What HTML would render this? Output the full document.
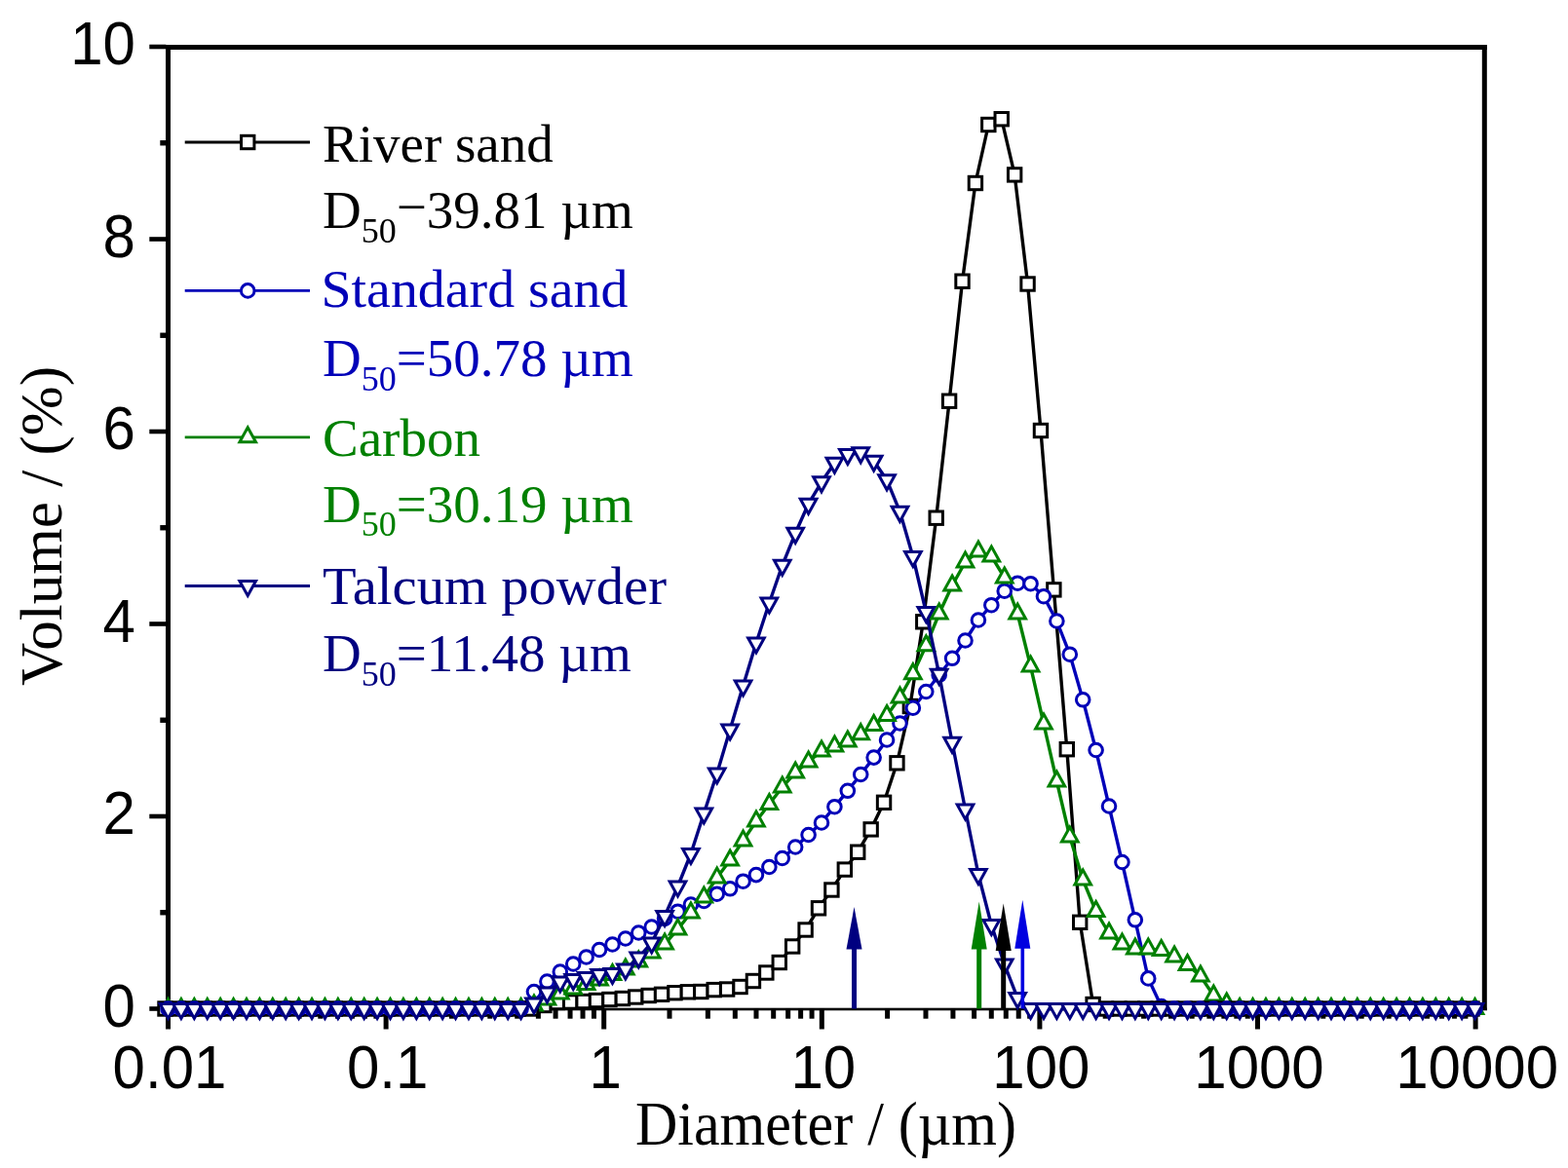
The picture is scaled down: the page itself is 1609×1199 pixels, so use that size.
<!DOCTYPE html><html><head><meta charset="utf-8"><title>Particle size distribution</title>
<style>html,body{margin:0;padding:0;background:#fff}svg{display:block}.sans{font-family:"Liberation Sans",Arial,sans-serif}.serif{font-family:"Liberation Serif","Times New Roman",serif}</style></head><body>
<svg width="1609" height="1199" viewBox="0 0 1609 1199">
<rect width="1609" height="1199" fill="#fff"/>
<g fill="#000"><rect x="170" y="46" width="1356" height="5"/><rect x="170" y="46" width="5" height="991"/><rect x="1520.8" y="46" width="5" height="991"/><rect x="170" y="1034.7" width="1356" height="2.6"/><rect x="153.3" y="1033.20" width="17" height="4.6"/><rect x="164.3" y="934.05" width="6" height="5.4"/><rect x="153.3" y="835.70" width="17" height="4.6"/><rect x="164.3" y="736.55" width="6" height="5.4"/><rect x="153.3" y="638.20" width="17" height="4.6"/><rect x="164.3" y="539.05" width="6" height="5.4"/><rect x="153.3" y="440.70" width="17" height="4.6"/><rect x="164.3" y="341.55" width="6" height="5.4"/><rect x="153.3" y="243.20" width="17" height="4.6"/><rect x="164.3" y="144.05" width="6" height="5.4"/><rect x="153.3" y="45.70" width="17" height="4.6"/><rect x="170.00" y="1036" width="5" height="20.5"/><rect x="237.31" y="1036" width="5" height="9.7"/><rect x="276.68" y="1036" width="5" height="9.7"/><rect x="304.62" y="1036" width="5" height="9.7"/><rect x="326.29" y="1036" width="5" height="9.7"/><rect x="343.99" y="1036" width="5" height="9.7"/><rect x="358.96" y="1036" width="5" height="9.7"/><rect x="371.93" y="1036" width="5" height="9.7"/><rect x="383.37" y="1036" width="5" height="9.7"/><rect x="393.60" y="1036" width="5" height="20.5"/><rect x="460.91" y="1036" width="5" height="9.7"/><rect x="500.28" y="1036" width="5" height="9.7"/><rect x="528.22" y="1036" width="5" height="9.7"/><rect x="549.89" y="1036" width="5" height="9.7"/><rect x="567.59" y="1036" width="5" height="9.7"/><rect x="582.56" y="1036" width="5" height="9.7"/><rect x="595.53" y="1036" width="5" height="9.7"/><rect x="606.97" y="1036" width="5" height="9.7"/><rect x="617.20" y="1036" width="5" height="20.5"/><rect x="684.51" y="1036" width="5" height="9.7"/><rect x="723.88" y="1036" width="5" height="9.7"/><rect x="751.82" y="1036" width="5" height="9.7"/><rect x="773.49" y="1036" width="5" height="9.7"/><rect x="791.19" y="1036" width="5" height="9.7"/><rect x="806.16" y="1036" width="5" height="9.7"/><rect x="819.13" y="1036" width="5" height="9.7"/><rect x="830.57" y="1036" width="5" height="9.7"/><rect x="840.80" y="1036" width="5" height="20.5"/><rect x="908.11" y="1036" width="5" height="9.7"/><rect x="947.48" y="1036" width="5" height="9.7"/><rect x="975.42" y="1036" width="5" height="9.7"/><rect x="997.09" y="1036" width="5" height="9.7"/><rect x="1014.79" y="1036" width="5" height="9.7"/><rect x="1029.76" y="1036" width="5" height="9.7"/><rect x="1042.73" y="1036" width="5" height="9.7"/><rect x="1054.17" y="1036" width="5" height="9.7"/><rect x="1064.40" y="1036" width="5" height="20.5"/><rect x="1131.71" y="1036" width="5" height="9.7"/><rect x="1171.08" y="1036" width="5" height="9.7"/><rect x="1199.02" y="1036" width="5" height="9.7"/><rect x="1220.69" y="1036" width="5" height="9.7"/><rect x="1238.39" y="1036" width="5" height="9.7"/><rect x="1253.36" y="1036" width="5" height="9.7"/><rect x="1266.33" y="1036" width="5" height="9.7"/><rect x="1277.77" y="1036" width="5" height="9.7"/><rect x="1288.00" y="1036" width="5" height="20.5"/><rect x="1355.31" y="1036" width="5" height="9.7"/><rect x="1394.68" y="1036" width="5" height="9.7"/><rect x="1422.62" y="1036" width="5" height="9.7"/><rect x="1444.29" y="1036" width="5" height="9.7"/><rect x="1461.99" y="1036" width="5" height="9.7"/><rect x="1476.96" y="1036" width="5" height="9.7"/><rect x="1489.93" y="1036" width="5" height="9.7"/><rect x="1501.37" y="1036" width="5" height="9.7"/><rect x="1511.60" y="1036" width="5" height="20.5"/></g>
<polyline points="169.5,1035.5 182.91,1035.5 196.32,1035.5 209.73,1035.5 223.14,1035.5 236.55,1035.5 249.96,1035.5 263.37,1035.5 276.78,1035.5 290.19,1035.5 303.6,1035.5 317.01,1035.5 330.42,1035.5 343.83,1035.5 357.24,1035.5 370.65,1035.5 384.06,1035.5 397.47,1035.5 410.88,1035.5 424.29,1035.5 437.7,1035.5 451.11,1035.5 464.52,1035.5 477.93,1035.5 491.34,1035.5 504.75,1035.5 518.16,1035.5 531.57,1035.5 544.98,1035.5 558.39,1032 571.8,1029 585.21,1028.5 598.62,1028 612.03,1027 625.44,1026 638.85,1025 652.26,1023.5 665.67,1022 679.08,1020.8 692.49,1019.2 705.9,1018.3 719.31,1018 732.72,1016.1 746.13,1015.5 759.54,1013 772.95,1007 786.36,998.5 799.77,988 813.18,971.5 826.59,954.5 840.0,932.3 853.41,913.5 866.82,892.6 880.23,874.7 893.64,851.4 907.05,823.8 920.46,783.3 933.87,725 947.28,638.3 960.69,531.7 974.1,411.7 987.51,288.7 1000.92,188 1014.33,128 1027.74,122.2 1041.15,179.4 1054.56,291.5 1067.97,442 1081.38,605.4 1094.79,769.2 1108.2,946.8 1121.61,1031 1135.02,1035.5 1148.43,1035.5 1161.84,1035.5 1175.25,1035.5 1188.66,1035.5 1202.07,1035.5 1215.48,1035.5 1228.89,1035.5 1242.3,1035.5 1255.71,1035.5 1269.12,1035.5 1282.53,1035.5 1295.94,1035.5 1309.35,1035.5 1322.76,1035.5 1336.17,1035.5 1349.58,1035.5 1362.99,1035.5 1376.4,1035.5 1389.81,1035.5 1403.22,1035.5 1416.63,1035.5 1430.04,1035.5 1443.45,1035.5 1456.86,1035.5 1470.27,1035.5 1483.68,1035.5 1497.09,1035.5 1510.5,1035.5" fill="none" stroke="#000000" stroke-width="3.4" stroke-linejoin="round"/>
<polyline points="172.5,1035.5 185.91,1035.5 199.32,1035.5 212.73,1035.5 226.14,1035.5 239.55,1035.5 252.96,1035.5 266.37,1035.5 279.78,1035.5 293.19,1035.5 306.6,1035.5 320.01,1035.5 333.42,1035.5 346.83,1035.5 360.24,1035.5 373.65,1035.5 387.06,1035.5 400.47,1035.5 413.88,1035.5 427.29,1035.5 440.7,1035.5 454.11,1035.5 467.52,1035.5 480.93,1035.5 494.34,1035.5 507.75,1035.5 521.16,1035.5 534.57,1035.5 547.98,1018 561.39,1007.5 574.8,997.5 588.21,989.5 601.62,982.5 615.03,975 628.44,969.5 641.85,963.5 655.26,957.5 668.67,951.5 682.08,943 695.49,935.7 708.9,928.5 722.31,924.9 735.72,917.7 749.13,912.3 762.54,904.7 775.95,898.1 789.36,890 802.77,881 816.18,869.5 829.59,857 843.0,844.5 856.41,828.2 869.82,811.8 883.23,795 896.64,777.6 910.05,759.5 923.46,742.5 936.87,726.7 950.28,710 963.69,693 977.1,675.8 990.51,657.5 1003.92,636.5 1017.33,621.2 1030.74,606.7 1044.15,598.7 1057.56,599.2 1070.97,612.2 1084.38,637.5 1097.79,671.7 1111.2,718.3 1124.61,770 1138.02,827.5 1151.43,885 1164.84,944.3 1178.25,1004.4 1191.66,1033 1205.07,1035.5 1218.48,1035.5 1231.89,1035.5 1245.3,1035.5 1258.71,1035.5 1272.12,1035.5 1285.53,1035.5 1298.94,1035.5 1312.35,1035.5 1325.76,1035.5 1339.17,1035.5 1352.58,1035.5 1365.99,1035.5 1379.4,1035.5 1392.81,1035.5 1406.22,1035.5 1419.63,1035.5 1433.04,1035.5 1446.45,1035.5 1459.86,1035.5 1473.27,1035.5 1486.68,1035.5 1500.09,1035.5 1513.5,1035.5" fill="none" stroke="#0000b8" stroke-width="3.4" stroke-linejoin="round"/>
<polyline points="172.5,1035.5 185.91,1035.5 199.32,1035.5 212.73,1035.5 226.14,1035.5 239.55,1035.5 252.96,1035.5 266.37,1035.5 279.78,1035.5 293.19,1035.5 306.6,1035.5 320.01,1035.5 333.42,1035.5 346.83,1035.5 360.24,1035.5 373.65,1035.5 387.06,1035.5 400.47,1035.5 413.88,1035.5 427.29,1035.5 440.7,1035.5 454.11,1035.5 467.52,1035.5 480.93,1035.5 494.34,1035.5 507.75,1035.5 521.16,1035.5 534.57,1035.5 547.98,1032 561.39,1026 574.8,1020 588.21,1015 601.62,1010.5 615.03,1006 628.44,1000.5 641.85,995 655.26,987 668.67,978 682.08,969 695.49,954 708.9,937 722.31,921 735.72,901 749.13,883 762.54,863 775.95,843 789.36,825.5 802.77,808 816.18,793 829.59,782 843.0,771 856.41,766 869.82,761 883.23,753.7 896.64,744.5 910.05,734.5 923.46,716 936.87,691.7 950.28,662.8 963.69,630 977.1,601 990.51,577 1003.92,566 1017.33,571 1030.74,593 1044.15,630 1057.56,684 1070.97,743 1084.38,802 1097.79,859 1111.2,903 1124.61,935.5 1138.02,958 1151.43,969 1164.84,974 1178.25,974 1191.66,975.5 1205.07,982 1218.48,990.5 1231.89,1002 1245.3,1022 1258.71,1030 1272.12,1035.5 1285.53,1035.5 1298.94,1035.5 1312.35,1035.5 1325.76,1035.5 1339.17,1035.5 1352.58,1035.5 1365.99,1035.5 1379.4,1035.5 1392.81,1035.5 1406.22,1035.5 1419.63,1035.5 1433.04,1035.5 1446.45,1035.5 1459.86,1035.5 1473.27,1035.5 1486.68,1035.5 1500.09,1035.5 1513.5,1035.5" fill="none" stroke="#008000" stroke-width="3.4" stroke-linejoin="round"/>
<g fill="#fff" stroke="#000000" stroke-width="3.0" stroke-linejoin="miter"><rect x="551.69" y="1025.30" width="13.4" height="13.4"/><rect x="565.10" y="1022.30" width="13.4" height="13.4"/><rect x="578.51" y="1021.80" width="13.4" height="13.4"/><rect x="591.92" y="1021.30" width="13.4" height="13.4"/><rect x="605.33" y="1020.30" width="13.4" height="13.4"/><rect x="618.74" y="1019.30" width="13.4" height="13.4"/><rect x="632.15" y="1018.30" width="13.4" height="13.4"/><rect x="645.56" y="1016.80" width="13.4" height="13.4"/><rect x="658.97" y="1015.30" width="13.4" height="13.4"/><rect x="672.38" y="1014.10" width="13.4" height="13.4"/><rect x="685.79" y="1012.50" width="13.4" height="13.4"/><rect x="699.20" y="1011.60" width="13.4" height="13.4"/><rect x="712.61" y="1011.30" width="13.4" height="13.4"/><rect x="726.02" y="1009.40" width="13.4" height="13.4"/><rect x="739.43" y="1008.80" width="13.4" height="13.4"/><rect x="752.84" y="1006.30" width="13.4" height="13.4"/><rect x="766.25" y="1000.30" width="13.4" height="13.4"/><rect x="779.66" y="991.80" width="13.4" height="13.4"/><rect x="793.07" y="981.30" width="13.4" height="13.4"/><rect x="806.48" y="964.80" width="13.4" height="13.4"/><rect x="819.89" y="947.80" width="13.4" height="13.4"/><rect x="833.30" y="925.60" width="13.4" height="13.4"/><rect x="846.71" y="906.80" width="13.4" height="13.4"/><rect x="860.12" y="885.90" width="13.4" height="13.4"/><rect x="873.53" y="868.00" width="13.4" height="13.4"/><rect x="886.94" y="844.70" width="13.4" height="13.4"/><rect x="900.35" y="817.10" width="13.4" height="13.4"/><rect x="913.76" y="776.60" width="13.4" height="13.4"/><rect x="927.17" y="718.30" width="13.4" height="13.4"/><rect x="940.58" y="631.60" width="13.4" height="13.4"/><rect x="953.99" y="525.00" width="13.4" height="13.4"/><rect x="967.40" y="405.00" width="13.4" height="13.4"/><rect x="980.81" y="282.00" width="13.4" height="13.4"/><rect x="994.22" y="181.30" width="13.4" height="13.4"/><rect x="1007.63" y="121.30" width="13.4" height="13.4"/><rect x="1021.04" y="115.50" width="13.4" height="13.4"/><rect x="1034.45" y="172.70" width="13.4" height="13.4"/><rect x="1047.86" y="284.80" width="13.4" height="13.4"/><rect x="1061.27" y="435.30" width="13.4" height="13.4"/><rect x="1074.68" y="598.70" width="13.4" height="13.4"/><rect x="1088.09" y="762.50" width="13.4" height="13.4"/><rect x="1101.50" y="940.10" width="13.4" height="13.4"/><rect x="1114.91" y="1024.30" width="13.4" height="13.4"/></g>
<g fill="#fff" stroke="#0000b8" stroke-width="3.0" stroke-linejoin="miter"><circle cx="547.98" cy="1018" r="6.8"/><circle cx="561.39" cy="1007.5" r="6.8"/><circle cx="574.8" cy="997.5" r="6.8"/><circle cx="588.21" cy="989.5" r="6.8"/><circle cx="601.62" cy="982.5" r="6.8"/><circle cx="615.03" cy="975" r="6.8"/><circle cx="628.44" cy="969.5" r="6.8"/><circle cx="641.85" cy="963.5" r="6.8"/><circle cx="655.26" cy="957.5" r="6.8"/><circle cx="668.67" cy="951.5" r="6.8"/><circle cx="682.08" cy="943" r="6.8"/><circle cx="695.49" cy="935.7" r="6.8"/><circle cx="708.9" cy="928.5" r="6.8"/><circle cx="722.31" cy="924.9" r="6.8"/><circle cx="735.72" cy="917.7" r="6.8"/><circle cx="749.13" cy="912.3" r="6.8"/><circle cx="762.54" cy="904.7" r="6.8"/><circle cx="775.95" cy="898.1" r="6.8"/><circle cx="789.36" cy="890" r="6.8"/><circle cx="802.77" cy="881" r="6.8"/><circle cx="816.18" cy="869.5" r="6.8"/><circle cx="829.59" cy="857" r="6.8"/><circle cx="843.0" cy="844.5" r="6.8"/><circle cx="856.41" cy="828.2" r="6.8"/><circle cx="869.82" cy="811.8" r="6.8"/><circle cx="883.23" cy="795" r="6.8"/><circle cx="896.64" cy="777.6" r="6.8"/><circle cx="910.05" cy="759.5" r="6.8"/><circle cx="923.46" cy="742.5" r="6.8"/><circle cx="936.87" cy="726.7" r="6.8"/><circle cx="950.28" cy="710" r="6.8"/><circle cx="963.69" cy="693" r="6.8"/><circle cx="977.1" cy="675.8" r="6.8"/><circle cx="990.51" cy="657.5" r="6.8"/><circle cx="1003.92" cy="636.5" r="6.8"/><circle cx="1017.33" cy="621.2" r="6.8"/><circle cx="1030.74" cy="606.7" r="6.8"/><circle cx="1044.15" cy="598.7" r="6.8"/><circle cx="1057.56" cy="599.2" r="6.8"/><circle cx="1070.97" cy="612.2" r="6.8"/><circle cx="1084.38" cy="637.5" r="6.8"/><circle cx="1097.79" cy="671.7" r="6.8"/><circle cx="1111.2" cy="718.3" r="6.8"/><circle cx="1124.61" cy="770" r="6.8"/><circle cx="1138.02" cy="827.5" r="6.8"/><circle cx="1151.43" cy="885" r="6.8"/><circle cx="1164.84" cy="944.3" r="6.8"/><circle cx="1178.25" cy="1004.4" r="6.8"/><circle cx="1191.66" cy="1033" r="6.8"/></g>
<g fill="#fff" stroke="#008000" stroke-width="3.0" stroke-linejoin="miter"><path d="M547.98 1022.00L556.28 1037.00H539.68Z"/><path d="M561.39 1016.00L569.69 1031.00H553.09Z"/><path d="M574.80 1010.00L583.10 1025.00H566.50Z"/><path d="M588.21 1005.00L596.51 1020.00H579.91Z"/><path d="M601.62 1000.50L609.92 1015.50H593.32Z"/><path d="M615.03 996.00L623.33 1011.00H606.73Z"/><path d="M628.44 990.50L636.74 1005.50H620.14Z"/><path d="M641.85 985.00L650.15 1000.00H633.55Z"/><path d="M655.26 977.00L663.56 992.00H646.96Z"/><path d="M668.67 968.00L676.97 983.00H660.37Z"/><path d="M682.08 959.00L690.38 974.00H673.78Z"/><path d="M695.49 944.00L703.79 959.00H687.19Z"/><path d="M708.90 927.00L717.20 942.00H700.60Z"/><path d="M722.31 911.00L730.61 926.00H714.01Z"/><path d="M735.72 891.00L744.02 906.00H727.42Z"/><path d="M749.13 873.00L757.43 888.00H740.83Z"/><path d="M762.54 853.00L770.84 868.00H754.24Z"/><path d="M775.95 833.00L784.25 848.00H767.65Z"/><path d="M789.36 815.50L797.66 830.50H781.06Z"/><path d="M802.77 798.00L811.07 813.00H794.47Z"/><path d="M816.18 783.00L824.48 798.00H807.88Z"/><path d="M829.59 772.00L837.89 787.00H821.29Z"/><path d="M843.00 761.00L851.30 776.00H834.70Z"/><path d="M856.41 756.00L864.71 771.00H848.11Z"/><path d="M869.82 751.00L878.12 766.00H861.52Z"/><path d="M883.23 743.70L891.53 758.70H874.93Z"/><path d="M896.64 734.50L904.94 749.50H888.34Z"/><path d="M910.05 724.50L918.35 739.50H901.75Z"/><path d="M923.46 706.00L931.76 721.00H915.16Z"/><path d="M936.87 681.70L945.17 696.70H928.57Z"/><path d="M950.28 652.80L958.58 667.80H941.98Z"/><path d="M963.69 620.00L971.99 635.00H955.39Z"/><path d="M977.10 591.00L985.40 606.00H968.80Z"/><path d="M990.51 567.00L998.81 582.00H982.21Z"/><path d="M1003.92 556.00L1012.22 571.00H995.62Z"/><path d="M1017.33 561.00L1025.63 576.00H1009.03Z"/><path d="M1030.74 583.00L1039.04 598.00H1022.44Z"/><path d="M1044.15 620.00L1052.45 635.00H1035.85Z"/><path d="M1057.56 674.00L1065.86 689.00H1049.26Z"/><path d="M1070.97 733.00L1079.27 748.00H1062.67Z"/><path d="M1084.38 792.00L1092.68 807.00H1076.08Z"/><path d="M1097.79 849.00L1106.09 864.00H1089.49Z"/><path d="M1111.20 893.00L1119.50 908.00H1102.90Z"/><path d="M1124.61 925.50L1132.91 940.50H1116.31Z"/><path d="M1138.02 948.00L1146.32 963.00H1129.72Z"/><path d="M1151.43 959.00L1159.73 974.00H1143.13Z"/><path d="M1164.84 964.00L1173.14 979.00H1156.54Z"/><path d="M1178.25 964.00L1186.55 979.00H1169.95Z"/><path d="M1191.66 965.50L1199.96 980.50H1183.36Z"/><path d="M1205.07 972.00L1213.37 987.00H1196.77Z"/><path d="M1218.48 980.50L1226.78 995.50H1210.18Z"/><path d="M1231.89 992.00L1240.19 1007.00H1223.59Z"/><path d="M1245.30 1012.00L1253.60 1027.00H1237.00Z"/><path d="M1258.71 1020.00L1267.01 1035.00H1250.41Z"/></g>
<g fill="#fff" stroke="#008000" stroke-width="3.0" stroke-linejoin="miter"><path d="M172.50 1025.50L180.80 1040.50H164.20Z"/><path d="M185.91 1025.50L194.21 1040.50H177.61Z"/><path d="M199.32 1025.50L207.62 1040.50H191.02Z"/><path d="M212.73 1025.50L221.03 1040.50H204.43Z"/><path d="M226.14 1025.50L234.44 1040.50H217.84Z"/><path d="M239.55 1025.50L247.85 1040.50H231.25Z"/><path d="M252.96 1025.50L261.26 1040.50H244.66Z"/><path d="M266.37 1025.50L274.67 1040.50H258.07Z"/><path d="M279.78 1025.50L288.08 1040.50H271.48Z"/><path d="M293.19 1025.50L301.49 1040.50H284.89Z"/><path d="M306.60 1025.50L314.90 1040.50H298.30Z"/><path d="M320.01 1025.50L328.31 1040.50H311.71Z"/><path d="M333.42 1025.50L341.72 1040.50H325.12Z"/><path d="M346.83 1025.50L355.13 1040.50H338.53Z"/><path d="M360.24 1025.50L368.54 1040.50H351.94Z"/><path d="M373.65 1025.50L381.95 1040.50H365.35Z"/><path d="M387.06 1025.50L395.36 1040.50H378.76Z"/><path d="M400.47 1025.50L408.77 1040.50H392.17Z"/><path d="M413.88 1025.50L422.18 1040.50H405.58Z"/><path d="M427.29 1025.50L435.59 1040.50H418.99Z"/><path d="M440.70 1025.50L449.00 1040.50H432.40Z"/><path d="M454.11 1025.50L462.41 1040.50H445.81Z"/><path d="M467.52 1025.50L475.82 1040.50H459.22Z"/><path d="M480.93 1025.50L489.23 1040.50H472.63Z"/><path d="M494.34 1025.50L502.64 1040.50H486.04Z"/><path d="M507.75 1025.50L516.05 1040.50H499.45Z"/><path d="M521.16 1025.50L529.46 1040.50H512.86Z"/><path d="M534.57 1025.50L542.87 1040.50H526.27Z"/><path d="M1272.12 1025.50L1280.42 1040.50H1263.82Z"/><path d="M1285.53 1025.50L1293.83 1040.50H1277.23Z"/><path d="M1298.94 1025.50L1307.24 1040.50H1290.64Z"/><path d="M1312.35 1025.50L1320.65 1040.50H1304.05Z"/><path d="M1325.76 1025.50L1334.06 1040.50H1317.46Z"/><path d="M1339.17 1025.50L1347.47 1040.50H1330.87Z"/><path d="M1352.58 1025.50L1360.88 1040.50H1344.28Z"/><path d="M1365.99 1025.50L1374.29 1040.50H1357.69Z"/><path d="M1379.40 1025.50L1387.70 1040.50H1371.10Z"/><path d="M1392.81 1025.50L1401.11 1040.50H1384.51Z"/><path d="M1406.22 1025.50L1414.52 1040.50H1397.92Z"/><path d="M1419.63 1025.50L1427.93 1040.50H1411.33Z"/><path d="M1433.04 1025.50L1441.34 1040.50H1424.74Z"/><path d="M1446.45 1025.50L1454.75 1040.50H1438.15Z"/><path d="M1459.86 1025.50L1468.16 1040.50H1451.56Z"/><path d="M1473.27 1025.50L1481.57 1040.50H1464.97Z"/><path d="M1486.68 1025.50L1494.98 1040.50H1478.38Z"/><path d="M1500.09 1025.50L1508.39 1040.50H1491.79Z"/><path d="M1513.50 1025.50L1521.80 1040.50H1505.20Z"/></g>
<g fill="#fff" stroke="#000000" stroke-width="3.0" stroke-linejoin="miter"><rect x="162.80" y="1028.80" width="13.4" height="13.4"/><rect x="176.21" y="1028.80" width="13.4" height="13.4"/><rect x="189.62" y="1028.80" width="13.4" height="13.4"/><rect x="203.03" y="1028.80" width="13.4" height="13.4"/><rect x="216.44" y="1028.80" width="13.4" height="13.4"/><rect x="229.85" y="1028.80" width="13.4" height="13.4"/><rect x="243.26" y="1028.80" width="13.4" height="13.4"/><rect x="256.67" y="1028.80" width="13.4" height="13.4"/><rect x="270.08" y="1028.80" width="13.4" height="13.4"/><rect x="283.49" y="1028.80" width="13.4" height="13.4"/><rect x="296.90" y="1028.80" width="13.4" height="13.4"/><rect x="310.31" y="1028.80" width="13.4" height="13.4"/><rect x="323.72" y="1028.80" width="13.4" height="13.4"/><rect x="337.13" y="1028.80" width="13.4" height="13.4"/><rect x="350.54" y="1028.80" width="13.4" height="13.4"/><rect x="363.95" y="1028.80" width="13.4" height="13.4"/><rect x="377.36" y="1028.80" width="13.4" height="13.4"/><rect x="390.77" y="1028.80" width="13.4" height="13.4"/><rect x="404.18" y="1028.80" width="13.4" height="13.4"/><rect x="417.59" y="1028.80" width="13.4" height="13.4"/><rect x="431.00" y="1028.80" width="13.4" height="13.4"/><rect x="444.41" y="1028.80" width="13.4" height="13.4"/><rect x="457.82" y="1028.80" width="13.4" height="13.4"/><rect x="471.23" y="1028.80" width="13.4" height="13.4"/><rect x="484.64" y="1028.80" width="13.4" height="13.4"/><rect x="498.05" y="1028.80" width="13.4" height="13.4"/><rect x="511.46" y="1028.80" width="13.4" height="13.4"/><rect x="524.87" y="1028.80" width="13.4" height="13.4"/><rect x="538.28" y="1028.80" width="13.4" height="13.4"/><rect x="1128.32" y="1028.80" width="13.4" height="13.4"/><rect x="1141.73" y="1028.80" width="13.4" height="13.4"/><rect x="1155.14" y="1028.80" width="13.4" height="13.4"/><rect x="1168.55" y="1028.80" width="13.4" height="13.4"/><rect x="1181.96" y="1028.80" width="13.4" height="13.4"/><rect x="1195.37" y="1028.80" width="13.4" height="13.4"/><rect x="1208.78" y="1028.80" width="13.4" height="13.4"/><rect x="1222.19" y="1028.80" width="13.4" height="13.4"/><rect x="1235.60" y="1028.80" width="13.4" height="13.4"/><rect x="1249.01" y="1028.80" width="13.4" height="13.4"/><rect x="1262.42" y="1028.80" width="13.4" height="13.4"/><rect x="1275.83" y="1028.80" width="13.4" height="13.4"/><rect x="1289.24" y="1028.80" width="13.4" height="13.4"/><rect x="1302.65" y="1028.80" width="13.4" height="13.4"/><rect x="1316.06" y="1028.80" width="13.4" height="13.4"/><rect x="1329.47" y="1028.80" width="13.4" height="13.4"/><rect x="1342.88" y="1028.80" width="13.4" height="13.4"/><rect x="1356.29" y="1028.80" width="13.4" height="13.4"/><rect x="1369.70" y="1028.80" width="13.4" height="13.4"/><rect x="1383.11" y="1028.80" width="13.4" height="13.4"/><rect x="1396.52" y="1028.80" width="13.4" height="13.4"/><rect x="1409.93" y="1028.80" width="13.4" height="13.4"/><rect x="1423.34" y="1028.80" width="13.4" height="13.4"/><rect x="1436.75" y="1028.80" width="13.4" height="13.4"/><rect x="1450.16" y="1028.80" width="13.4" height="13.4"/><rect x="1463.57" y="1028.80" width="13.4" height="13.4"/><rect x="1476.98" y="1028.80" width="13.4" height="13.4"/><rect x="1490.39" y="1028.80" width="13.4" height="13.4"/><rect x="1503.80" y="1028.80" width="13.4" height="13.4"/></g>
<g fill="#fff" stroke="#0000b8" stroke-width="3.0" stroke-linejoin="miter"><circle cx="172.5" cy="1035.5" r="6.8"/><circle cx="185.91" cy="1035.5" r="6.8"/><circle cx="199.32" cy="1035.5" r="6.8"/><circle cx="212.73" cy="1035.5" r="6.8"/><circle cx="226.14" cy="1035.5" r="6.8"/><circle cx="239.55" cy="1035.5" r="6.8"/><circle cx="252.96" cy="1035.5" r="6.8"/><circle cx="266.37" cy="1035.5" r="6.8"/><circle cx="279.78" cy="1035.5" r="6.8"/><circle cx="293.19" cy="1035.5" r="6.8"/><circle cx="306.6" cy="1035.5" r="6.8"/><circle cx="320.01" cy="1035.5" r="6.8"/><circle cx="333.42" cy="1035.5" r="6.8"/><circle cx="346.83" cy="1035.5" r="6.8"/><circle cx="360.24" cy="1035.5" r="6.8"/><circle cx="373.65" cy="1035.5" r="6.8"/><circle cx="387.06" cy="1035.5" r="6.8"/><circle cx="400.47" cy="1035.5" r="6.8"/><circle cx="413.88" cy="1035.5" r="6.8"/><circle cx="427.29" cy="1035.5" r="6.8"/><circle cx="440.7" cy="1035.5" r="6.8"/><circle cx="454.11" cy="1035.5" r="6.8"/><circle cx="467.52" cy="1035.5" r="6.8"/><circle cx="480.93" cy="1035.5" r="6.8"/><circle cx="494.34" cy="1035.5" r="6.8"/><circle cx="507.75" cy="1035.5" r="6.8"/><circle cx="521.16" cy="1035.5" r="6.8"/><circle cx="534.57" cy="1035.5" r="6.8"/><circle cx="1205.07" cy="1035.5" r="6.8"/><circle cx="1218.48" cy="1035.5" r="6.8"/><circle cx="1231.89" cy="1035.5" r="6.8"/><circle cx="1245.3" cy="1035.5" r="6.8"/><circle cx="1258.71" cy="1035.5" r="6.8"/><circle cx="1272.12" cy="1035.5" r="6.8"/><circle cx="1285.53" cy="1035.5" r="6.8"/><circle cx="1298.94" cy="1035.5" r="6.8"/><circle cx="1312.35" cy="1035.5" r="6.8"/><circle cx="1325.76" cy="1035.5" r="6.8"/><circle cx="1339.17" cy="1035.5" r="6.8"/><circle cx="1352.58" cy="1035.5" r="6.8"/><circle cx="1365.99" cy="1035.5" r="6.8"/><circle cx="1379.4" cy="1035.5" r="6.8"/><circle cx="1392.81" cy="1035.5" r="6.8"/><circle cx="1406.22" cy="1035.5" r="6.8"/><circle cx="1419.63" cy="1035.5" r="6.8"/><circle cx="1433.04" cy="1035.5" r="6.8"/><circle cx="1446.45" cy="1035.5" r="6.8"/><circle cx="1459.86" cy="1035.5" r="6.8"/><circle cx="1473.27" cy="1035.5" r="6.8"/><circle cx="1486.68" cy="1035.5" r="6.8"/><circle cx="1500.09" cy="1035.5" r="6.8"/><circle cx="1513.5" cy="1035.5" r="6.8"/></g>
<polyline points="172.5,1035.5 185.91,1035.5 199.32,1035.5 212.73,1035.5 226.14,1035.5 239.55,1035.5 252.96,1035.5 266.37,1035.5 279.78,1035.5 293.19,1035.5 306.6,1035.5 320.01,1035.5 333.42,1035.5 346.83,1035.5 360.24,1035.5 373.65,1035.5 387.06,1035.5 400.47,1035.5 413.88,1035.5 427.29,1035.5 440.7,1035.5 454.11,1035.5 467.52,1035.5 480.93,1035.5 494.34,1035.5 507.75,1035.5 521.16,1035.5 534.57,1035.5 547.98,1030 561.39,1019 574.8,1008 588.21,1005.5 601.62,1003.5 615.03,1000.5 628.44,999.5 641.85,995 655.26,983 668.67,968 682.08,940.5 695.49,910 708.9,876.5 722.31,835 735.72,794 749.13,749 762.54,704 775.95,660 789.36,619 802.77,580.3 816.18,547.3 829.59,517.3 843.0,494.8 856.41,475.3 869.82,466.5 883.23,464.8 896.64,473.2 910.05,492.8 923.46,525.3 936.87,571.5 950.28,628.5 963.69,692.3 977.1,762.3 990.51,831 1003.92,897.5 1017.33,949.5 1030.74,990 1044.15,1024.5 1057.56,1035.5 1070.97,1035.5 1084.38,1035.5 1097.79,1035.5 1111.2,1035.5 1124.61,1035.5 1138.02,1035.5 1151.43,1035.5 1164.84,1035.5 1178.25,1035.5 1191.66,1035.5 1205.07,1035.5 1218.48,1035.5 1231.89,1035.5 1245.3,1035.5 1258.71,1035.5 1272.12,1035.5 1285.53,1035.5 1298.94,1035.5 1312.35,1035.5 1325.76,1035.5 1339.17,1035.5 1352.58,1035.5 1365.99,1035.5 1379.4,1035.5 1392.81,1035.5 1406.22,1035.5 1419.63,1035.5 1433.04,1035.5 1446.45,1035.5 1459.86,1035.5 1473.27,1035.5 1486.68,1035.5 1500.09,1035.5 1513.5,1035.5" fill="none" stroke="#000080" stroke-width="3.4" stroke-linejoin="round"/>
<g fill="#fff" stroke="#000080" stroke-width="3.0" stroke-linejoin="miter"><path d="M172.50 1045.50L180.80 1030.50H164.20Z"/><path d="M185.91 1045.50L194.21 1030.50H177.61Z"/><path d="M199.32 1045.50L207.62 1030.50H191.02Z"/><path d="M212.73 1045.50L221.03 1030.50H204.43Z"/><path d="M226.14 1045.50L234.44 1030.50H217.84Z"/><path d="M239.55 1045.50L247.85 1030.50H231.25Z"/><path d="M252.96 1045.50L261.26 1030.50H244.66Z"/><path d="M266.37 1045.50L274.67 1030.50H258.07Z"/><path d="M279.78 1045.50L288.08 1030.50H271.48Z"/><path d="M293.19 1045.50L301.49 1030.50H284.89Z"/><path d="M306.60 1045.50L314.90 1030.50H298.30Z"/><path d="M320.01 1045.50L328.31 1030.50H311.71Z"/><path d="M333.42 1045.50L341.72 1030.50H325.12Z"/><path d="M346.83 1045.50L355.13 1030.50H338.53Z"/><path d="M360.24 1045.50L368.54 1030.50H351.94Z"/><path d="M373.65 1045.50L381.95 1030.50H365.35Z"/><path d="M387.06 1045.50L395.36 1030.50H378.76Z"/><path d="M400.47 1045.50L408.77 1030.50H392.17Z"/><path d="M413.88 1045.50L422.18 1030.50H405.58Z"/><path d="M427.29 1045.50L435.59 1030.50H418.99Z"/><path d="M440.70 1045.50L449.00 1030.50H432.40Z"/><path d="M454.11 1045.50L462.41 1030.50H445.81Z"/><path d="M467.52 1045.50L475.82 1030.50H459.22Z"/><path d="M480.93 1045.50L489.23 1030.50H472.63Z"/><path d="M494.34 1045.50L502.64 1030.50H486.04Z"/><path d="M507.75 1045.50L516.05 1030.50H499.45Z"/><path d="M521.16 1045.50L529.46 1030.50H512.86Z"/><path d="M534.57 1045.50L542.87 1030.50H526.27Z"/><path d="M547.98 1040.00L556.28 1025.00H539.68Z"/><path d="M561.39 1029.00L569.69 1014.00H553.09Z"/><path d="M574.80 1018.00L583.10 1003.00H566.50Z"/><path d="M588.21 1015.50L596.51 1000.50H579.91Z"/><path d="M601.62 1013.50L609.92 998.50H593.32Z"/><path d="M615.03 1010.50L623.33 995.50H606.73Z"/><path d="M628.44 1009.50L636.74 994.50H620.14Z"/><path d="M641.85 1005.00L650.15 990.00H633.55Z"/><path d="M655.26 993.00L663.56 978.00H646.96Z"/><path d="M668.67 978.00L676.97 963.00H660.37Z"/><path d="M682.08 950.50L690.38 935.50H673.78Z"/><path d="M695.49 920.00L703.79 905.00H687.19Z"/><path d="M708.90 886.50L717.20 871.50H700.60Z"/><path d="M722.31 845.00L730.61 830.00H714.01Z"/><path d="M735.72 804.00L744.02 789.00H727.42Z"/><path d="M749.13 759.00L757.43 744.00H740.83Z"/><path d="M762.54 714.00L770.84 699.00H754.24Z"/><path d="M775.95 670.00L784.25 655.00H767.65Z"/><path d="M789.36 629.00L797.66 614.00H781.06Z"/><path d="M802.77 590.30L811.07 575.30H794.47Z"/><path d="M816.18 557.30L824.48 542.30H807.88Z"/><path d="M829.59 527.30L837.89 512.30H821.29Z"/><path d="M843.00 504.80L851.30 489.80H834.70Z"/><path d="M856.41 485.30L864.71 470.30H848.11Z"/><path d="M869.82 476.50L878.12 461.50H861.52Z"/><path d="M883.23 474.80L891.53 459.80H874.93Z"/><path d="M896.64 483.20L904.94 468.20H888.34Z"/><path d="M910.05 502.80L918.35 487.80H901.75Z"/><path d="M923.46 535.30L931.76 520.30H915.16Z"/><path d="M936.87 581.50L945.17 566.50H928.57Z"/><path d="M950.28 638.50L958.58 623.50H941.98Z"/><path d="M963.69 702.30L971.99 687.30H955.39Z"/><path d="M977.10 772.30L985.40 757.30H968.80Z"/><path d="M990.51 841.00L998.81 826.00H982.21Z"/><path d="M1003.92 907.50L1012.22 892.50H995.62Z"/><path d="M1017.33 959.50L1025.63 944.50H1009.03Z"/><path d="M1030.74 1000.00L1039.04 985.00H1022.44Z"/><path d="M1044.15 1034.50L1052.45 1019.50H1035.85Z"/><path d="M1057.56 1045.50L1065.86 1030.50H1049.26Z"/><path d="M1070.97 1045.50L1079.27 1030.50H1062.67Z"/><path d="M1084.38 1045.50L1092.68 1030.50H1076.08Z"/><path d="M1097.79 1045.50L1106.09 1030.50H1089.49Z"/><path d="M1111.20 1045.50L1119.50 1030.50H1102.90Z"/><path d="M1124.61 1045.50L1132.91 1030.50H1116.31Z"/><path d="M1138.02 1045.50L1146.32 1030.50H1129.72Z"/><path d="M1151.43 1045.50L1159.73 1030.50H1143.13Z"/><path d="M1164.84 1045.50L1173.14 1030.50H1156.54Z"/><path d="M1178.25 1045.50L1186.55 1030.50H1169.95Z"/><path d="M1191.66 1045.50L1199.96 1030.50H1183.36Z"/><path d="M1205.07 1045.50L1213.37 1030.50H1196.77Z"/><path d="M1218.48 1045.50L1226.78 1030.50H1210.18Z"/><path d="M1231.89 1045.50L1240.19 1030.50H1223.59Z"/><path d="M1245.30 1045.50L1253.60 1030.50H1237.00Z"/><path d="M1258.71 1045.50L1267.01 1030.50H1250.41Z"/><path d="M1272.12 1045.50L1280.42 1030.50H1263.82Z"/><path d="M1285.53 1045.50L1293.83 1030.50H1277.23Z"/><path d="M1298.94 1045.50L1307.24 1030.50H1290.64Z"/><path d="M1312.35 1045.50L1320.65 1030.50H1304.05Z"/><path d="M1325.76 1045.50L1334.06 1030.50H1317.46Z"/><path d="M1339.17 1045.50L1347.47 1030.50H1330.87Z"/><path d="M1352.58 1045.50L1360.88 1030.50H1344.28Z"/><path d="M1365.99 1045.50L1374.29 1030.50H1357.69Z"/><path d="M1379.40 1045.50L1387.70 1030.50H1371.10Z"/><path d="M1392.81 1045.50L1401.11 1030.50H1384.51Z"/><path d="M1406.22 1045.50L1414.52 1030.50H1397.92Z"/><path d="M1419.63 1045.50L1427.93 1030.50H1411.33Z"/><path d="M1433.04 1045.50L1441.34 1030.50H1424.74Z"/><path d="M1446.45 1045.50L1454.75 1030.50H1438.15Z"/><path d="M1459.86 1045.50L1468.16 1030.50H1451.56Z"/><path d="M1473.27 1045.50L1481.57 1030.50H1464.97Z"/><path d="M1486.68 1045.50L1494.98 1030.50H1478.38Z"/><path d="M1500.09 1045.50L1508.39 1030.50H1491.79Z"/><path d="M1513.50 1045.50L1521.80 1030.50H1505.20Z"/></g>
<g fill="#000080"><rect x="874.00" y="973.5" width="5" height="62.00"/><path d="M876.50 931L884.50 974.5H868.50Z"/></g>
<g fill="#008000"><rect x="1002.20" y="973.5" width="5" height="62.00"/><path d="M1004.70 925.6L1012.70 974.5H996.70Z"/></g>
<g fill="#000000"><rect x="1027.20" y="975" width="5" height="60.50"/><path d="M1029.70 927.5L1037.70 976H1021.70Z"/></g>
<g fill="#0000e0"><rect x="1047.50" y="972.8" width="3.6" height="62.70"/><path d="M1049.30 923.8L1057.30 973.8H1041.30Z"/></g>
<g class="sans" font-size="60" fill="#000"><text transform="translate(139 1053.5) scale(1 1.045)" text-anchor="end">0</text><text transform="translate(139 856.0) scale(1 1.045)" text-anchor="end">2</text><text transform="translate(139 658.5) scale(1 1.045)" text-anchor="end">4</text><text transform="translate(139 461.0) scale(1 1.045)" text-anchor="end">6</text><text transform="translate(139 263.5) scale(1 1.045)" text-anchor="end">8</text><text transform="translate(139 66.0) scale(1 1.045)" text-anchor="end">10</text><text transform="translate(174.0 1117) scale(1 1.045)" text-anchor="middle">0.01</text><text transform="translate(397.6 1117) scale(1 1.045)" text-anchor="middle">0.1</text><text transform="translate(621.2 1117) scale(1 1.045)" text-anchor="middle">1</text><text transform="translate(844.8 1117) scale(1 1.045)" text-anchor="middle">10</text><text transform="translate(1068.4 1117) scale(1 1.045)" text-anchor="middle">100</text><text transform="translate(1292.0 1117) scale(1 1.045)" text-anchor="middle">1000</text><text transform="translate(1515.6 1117) scale(1 1.045)" text-anchor="middle">10000</text></g>
<text class="serif" x="652" y="1175" font-size="64" textLength="391" lengthAdjust="spacingAndGlyphs">Diameter / (µm)</text>
<text class="serif" transform="translate(63 704) rotate(-90)" x="0" y="0" font-size="61" textLength="328" lengthAdjust="spacingAndGlyphs">Volume / (%)</text>
<line x1="189.7" y1="146.0" x2="318" y2="146.0" stroke="#000000" stroke-width="2.8"/>
<g fill="#fff" stroke="#000000" stroke-width="3.0" stroke-linejoin="miter"><rect x="247.50" y="139.30" width="13.4" height="13.4"/></g>
<text class="serif" x="331" y="165.6" font-size="55" fill="#000000">River sand</text>
<text class="serif" x="331" y="234.4" font-size="55" fill="#000000">D<tspan font-size="36" dy="14.6">50</tspan><tspan dy="-18.2">−</tspan><tspan dy="3.6">39.81 µm</tspan></text>
<line x1="189.7" y1="298.4" x2="318" y2="298.4" stroke="#0000b8" stroke-width="2.8"/>
<g fill="#fff" stroke="#0000b8" stroke-width="3.0" stroke-linejoin="miter"><circle cx="254.2" cy="298.4" r="6.8"/></g>
<text class="serif" x="329.5" y="315.2" font-size="55" fill="#0000b8" textLength="315" lengthAdjust="spacingAndGlyphs">Standard sand</text>
<text class="serif" x="331" y="386.3" font-size="55" fill="#0000b8">D<tspan font-size="36" dy="14.6">50</tspan><tspan dy="-14.6">=</tspan><tspan>50.78 µm</tspan></text>
<line x1="189.7" y1="448.8" x2="318" y2="448.8" stroke="#008000" stroke-width="2.8"/>
<g fill="#fff" stroke="#008000" stroke-width="3.0" stroke-linejoin="miter"><path d="M254.20 438.80L262.50 453.80H245.90Z"/></g>
<text class="serif" x="331" y="467.9" font-size="55" fill="#008000">Carbon</text>
<text class="serif" x="331" y="535.7" font-size="55" fill="#008000">D<tspan font-size="36" dy="14.6">50</tspan><tspan dy="-14.6">=</tspan><tspan>30.19 µm</tspan></text>
<line x1="189.7" y1="601.5" x2="318" y2="601.5" stroke="#000080" stroke-width="2.8"/>
<g fill="#fff" stroke="#000080" stroke-width="3.0" stroke-linejoin="miter"><path d="M254.20 611.50L262.50 596.50H245.90Z"/></g>
<text class="serif" x="331" y="619.8" font-size="55" fill="#000080" textLength="353" lengthAdjust="spacingAndGlyphs">Talcum powder</text>
<text class="serif" x="331" y="689.3" font-size="55" fill="#000080">D<tspan font-size="36" dy="14.6">50</tspan><tspan dy="-14.6">=</tspan><tspan>11.48 µm</tspan></text>
</svg></body></html>
